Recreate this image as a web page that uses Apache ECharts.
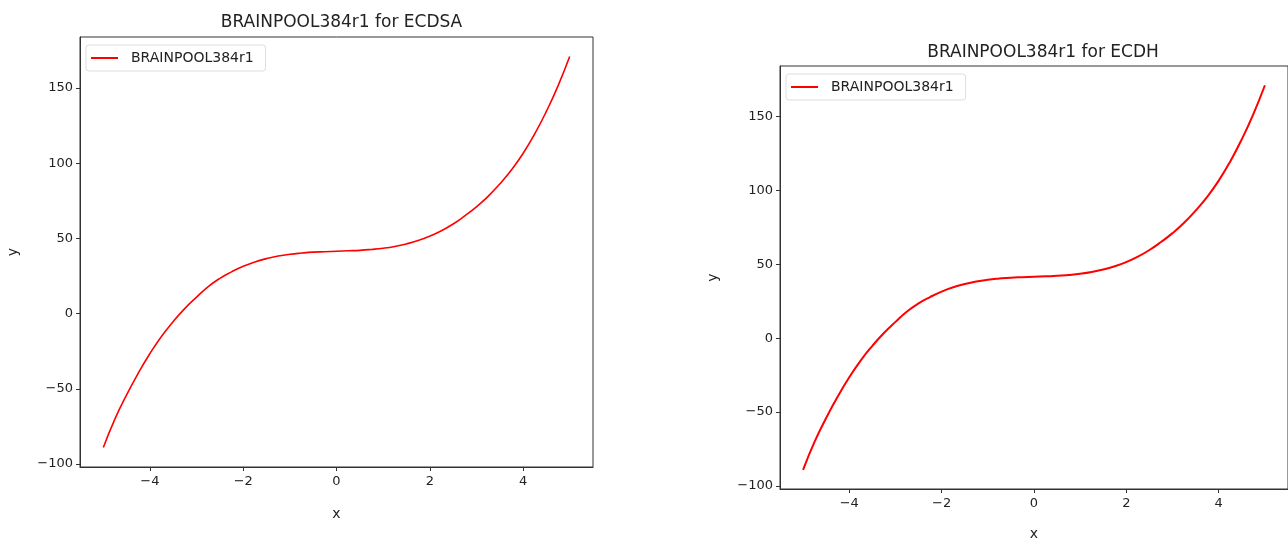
<!DOCTYPE html>
<html>
<head>
<meta charset="utf-8">
<script src="https://cdn.jsdelivr.net/npm/echarts@6/dist/echarts.min.js"></script>
<style>
html,body{margin:0;padding:0;background:#fff;}
#chart{width:1288px;height:546px;}
</style>
</head>
<body>
<div id="chart"></div>
<script>
// x values and y values
const xValues = [-5, -4.75, -4.5, -4.25, -4, -3.75, -3.5, -3.25, -3, -2.75, -2.5, -2.25, -2, -1.75, -1.5, -1.25, -1, -0.75, -0.5, -0.25,
                 0, 0.25, 0.5, 0.75, 1, 1.25, 1.5, 1.75, 2, 2.25, 2.5, 2.75, 3, 3.25, 3.5, 3.75, 4, 4.25, 4.5, 4.75, 5];
const ecdsaValues = [-89, -70, -54, -39.5, -26.5, -15, -5.2, 3.5, 11, 18, 23.5, 27.8, 31.5, 34.4, 36.6, 38.3, 39.5, 40.3, 40.9, 41.2,
                     41.5, 41.8, 42.1, 42.7, 43.5, 44.7, 46.4, 48.6, 51.5, 55.1, 59.6, 65, 71, 78, 86.2, 95.5, 106.5, 119.5, 134.5, 151.5, 171];
const ecdhValues  = [-89, -70, -54, -39.5, -26.5, -15, -5.2, 3.5, 11, 18, 23.5, 27.8, 31.5, 34.4, 36.6, 38.3, 39.5, 40.3, 40.9, 41.2,
                     41.5, 41.8, 42.1, 42.7, 43.5, 44.7, 46.4, 48.6, 51.5, 55.1, 59.6, 65, 71, 78, 86.2, 95.5, 106.5, 119.5, 134.5, 151.5, 171];
const xTicks = [-4, -2, 0, 2, 4];
const yTicks = [-100, -50, 0, 50, 100, 150];
const seriesName = 'BRAINPOOL384r1';
const titles = ['BRAINPOOL384r1 for ECDSA', 'BRAINPOOL384r1 for ECDH'];

const FONT = 'DejaVu Sans';
const TXT = '#222';
const AX = '#333';
const fmt = v => String(v).replace('-', '\u2212');

const grids = [
  {left: 80, top: 37, width: 513, height: 430},
  {left: 780, top: 66, width: 516, height: 432}
];

function xAxisFor(i) {
  return {
    type: 'value', gridIndex: i, min: -5.5, max: 5.5,
    name: 'x', nameLocation: 'middle', nameGap: i === 0 ? 40 : 38,
    nameTextStyle: {color: TXT, fontFamily: FONT, fontSize: 14},
    axisLine: {show: true, onZero: false, lineStyle: {color: AX, width: 1}},
    axisTick: {show: true, inside: false, length: 4, lineStyle: {color: AX}, customValues: xTicks},
    axisLabel: {color: TXT, fontFamily: FONT, fontSize: 13, margin: 8, customValues: xTicks, formatter: fmt},
    splitLine: {show: false}
  };
}
function yAxisFor(i) {
  return {
    type: 'value', gridIndex: i, min: -102, max: 184,
    name: 'y', nameLocation: 'middle', nameGap: 60,
    nameTextStyle: {color: TXT, fontFamily: FONT, fontSize: 14},
    axisLine: {show: true, onZero: false, lineStyle: {color: AX, width: 1}},
    axisTick: {show: true, inside: false, length: 4, lineStyle: {color: AX}, customValues: yTicks},
    axisLabel: {color: TXT, fontFamily: FONT, fontSize: 13, margin: 7, customValues: yTicks, formatter: fmt},
    splitLine: {show: false}
  };
}
function seriesFor(i, vals) {
  return {
    type: 'line', name: seriesName, xAxisIndex: i, yAxisIndex: i,
    data: xValues.map((x, k) => [x, vals[k]]),
    smooth: true, showSymbol: false, symbol: 'none',
    lineStyle: {color: '#ff0000', width: i === 0 ? 1.6 : 2},
    itemStyle: {color: '#ff0000'}
  };
}
function legendFor(i) {
  const g = grids[i];
  return {
    left: g.left + 6, top: g.top + 8,
    data: [seriesName],
    icon: 'rect', itemWidth: 27, itemHeight: 2, itemGap: 10,
    backgroundColor: '#fff', borderColor: '#ddd', borderWidth: 1, borderRadius: 3,
    padding: [6, 12, 6, 5],
    textStyle: {color: TXT, fontFamily: FONT, fontSize: 14, padding: [0, 0, 0, 8]},
    selectedMode: false
  };
}

const chart = echarts.init(document.getElementById('chart'), null, {renderer: 'canvas'});
chart.setOption({
  backgroundColor: '#fff',
  animation: false,
  title: [
    {text: titles[0], left: 80 + 513 / 2, top: 9, textAlign: 'center',
     textStyle: {color: TXT, fontFamily: FONT, fontSize: 17, fontWeight: 'normal'}},
    {text: titles[1], left: 1038, top: 39, textAlign: 'center',
     textStyle: {color: TXT, fontFamily: FONT, fontSize: 17, fontWeight: 'normal'}}
  ],
  legend: [legendFor(0), legendFor(1)],
  grid: grids.map(g => Object.assign({show: true, borderColor: AX, borderWidth: 1, backgroundColor: 'transparent'}, g)),
  xAxis: [xAxisFor(0), xAxisFor(1)],
  yAxis: [yAxisFor(0), yAxisFor(1)],
  series: [seriesFor(0, ecdsaValues), seriesFor(1, ecdhValues)]
});
</script>
</body>
</html>
